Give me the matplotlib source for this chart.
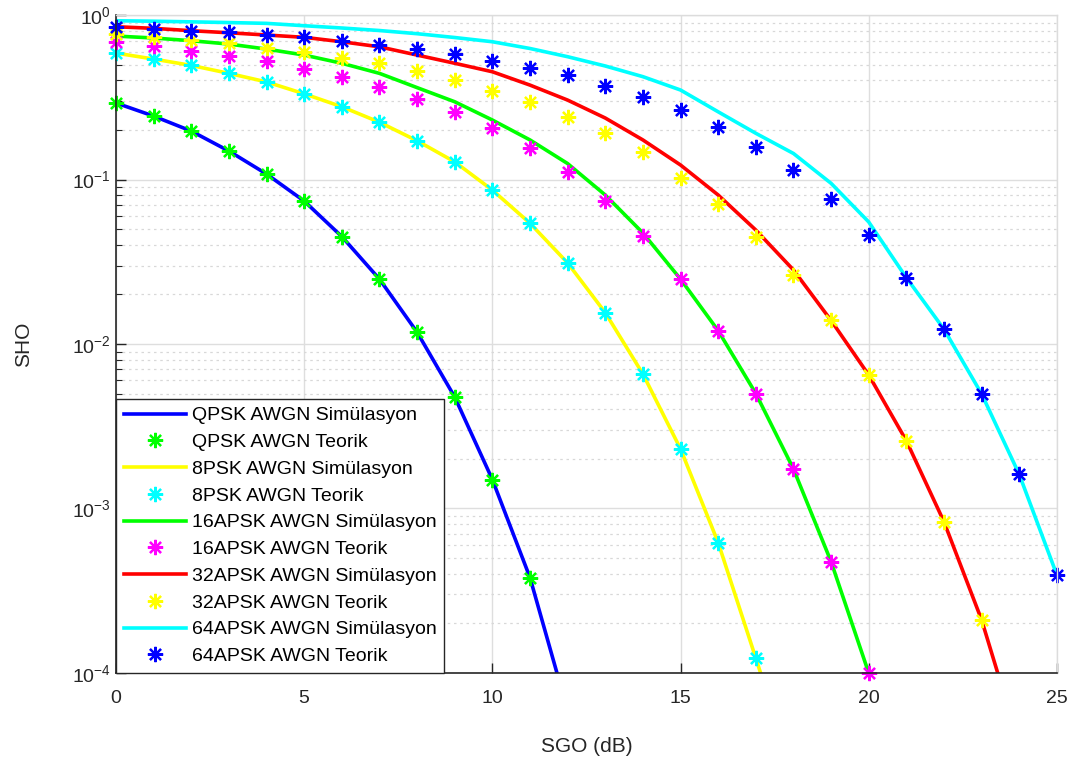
import numpy as np
import matplotlib
matplotlib.use("Agg")
import matplotlib.pyplot as plt

plt.rcParams['font.family'] = ['Liberation Sans', 'DejaVu Sans']

# --- SGO (dB) ekseni
snr = list(range(0, 26))

# --- QPSK
qpsk_sim = [0.292, 0.243, 0.197, 0.149, 0.108, 0.074, 0.045, 0.0248, 0.0118,
            0.00476, 0.0015, 0.00038, 5.9e-5]
qpsk_teo = [0.292, 0.243, 0.197, 0.149, 0.108, 0.074, 0.045, 0.0248, 0.0118,
            0.00476, 0.0015, 0.00038]

# --- 8PSK
psk8_sim = [0.587, 0.54, 0.494, 0.442, 0.392, 0.332, 0.277, 0.223, 0.172,
            0.128, 0.0863, 0.0542, 0.0311, 0.0155, 0.00657, 0.0023, 0.00062,
            1.23e-4, 2.4e-5]
psk8_teo = [0.587, 0.54, 0.494, 0.442, 0.392, 0.332, 0.277, 0.223, 0.172,
            0.128, 0.0863, 0.0542, 0.0311, 0.0155, 0.00657, 0.0023, 0.00062,
            1.23e-4]

# --- 16APSK
apsk16_sim = [0.745, 0.725, 0.698, 0.666, 0.621, 0.571, 0.509, 0.442, 0.362,
              0.297, 0.23, 0.174, 0.125, 0.0805, 0.0473, 0.0248, 0.01205,
              0.005, 0.00174, 4.75e-4, 1.0e-4, 1.5e-5]
apsk16_teo = [0.682, 0.651, 0.607, 0.566, 0.525, 0.472, 0.422, 0.365, 0.31,
              0.258, 0.205, 0.156, 0.111, 0.074, 0.0455, 0.0248, 0.01205,
              0.005, 0.00174, 4.75e-4, 1.0e-4]

# --- 32APSK
apsk32_sim = [0.849, 0.83, 0.803, 0.78, 0.756, 0.732, 0.688, 0.641, 0.571,
              0.509, 0.452, 0.375, 0.304, 0.2365, 0.174, 0.1225, 0.0805,
              0.0493, 0.0282, 0.0139, 0.00648, 0.00258, 8.3e-4, 2.1e-4, 3.7e-5]
apsk32_teo = [0.763, 0.738, 0.705, 0.673, 0.627, 0.593, 0.546, 0.508, 0.457,
              0.401, 0.347, 0.296, 0.241, 0.191, 0.146, 0.1025, 0.0707,
              0.0445, 0.0263, 0.0139, 0.00648, 0.00258, 8.3e-4, 2.1e-4]

# --- 64APSK
apsk64_sim = [0.923, 0.917, 0.909, 0.9, 0.89, 0.861, 0.834, 0.805, 0.77,
              0.73, 0.688, 0.626, 0.558, 0.49, 0.422, 0.35, 0.258, 0.191,
              0.144, 0.0948, 0.0552, 0.0253, 0.0123, 0.00497, 0.00161, 3.94e-4]
apsk64_teo = [0.849, 0.826, 0.803, 0.785, 0.759, 0.732, 0.692, 0.654, 0.619,
              0.577, 0.528, 0.478, 0.43, 0.372, 0.316, 0.264, 0.21, 0.158,
              0.114, 0.0758, 0.046, 0.0253, 0.0123, 0.00497, 0.00161, 3.94e-4]

names = ['QPSK', '8PSK', '16APSK', '32APSK', '64APSK']
sims = [qpsk_sim, psk8_sim, apsk16_sim, apsk32_sim, apsk64_sim]
teos = [qpsk_teo, psk8_teo, apsk16_teo, apsk32_teo, apsk64_teo]
line_col = ['#0000ff', '#ffff00', '#00ff00', '#ff0000', '#00ffff']
mark_col = ['#00ff00', '#00ffff', '#ff00ff', '#ffff00', '#0000ff']

fig = plt.figure(figsize=(10.84, 7.67), dpi=100)
ax = fig.add_axes([0.107, 0.1226, 0.868, 0.8578])

star = (8, 2, 0)  # matlab '*'
for n, s, t, lc, mc in zip(names, sims, teos, line_col, mark_col):
    ax.semilogy(snr[:len(s)], s, '-', color=lc, lw=2.6,
                label=n + ' AWGN Simülasyon')
    ax.semilogy(snr[:len(t)], t, ls='none', marker=star, ms=11, mew=1.6,
                color=mc, label=n + ' AWGN Teorik', clip_on=False)

ax.set_xlim(0, 25)
ax.set_ylim(1e-4, 1)
ax.set_xticks([0, 5, 10, 15, 20, 25])

ax.grid(True, which='major', color='#dedede', lw=1.0)
ax.grid(True, which='minor', axis='y', color='#d8d8d8', lw=0.9, ls=(0, (2, 3)))
ax.set_axisbelow(True)

for sp in ['left', 'bottom']:
    ax.spines[sp].set_color('#262626')
    ax.spines[sp].set_linewidth(1.2)
for sp in ['top', 'right']:
    ax.spines[sp].set_color('#dcdcdc')
    ax.spines[sp].set_linewidth(1.0)

ax.tick_params(which='both', direction='in', colors='#262626', labelsize=14,
               top=False, right=False)
ax.tick_params(which='major', length=7, width=1.0)
ax.tick_params(which='minor', length=4, width=0.8)
ax.tick_params(axis='x', pad=12)

ax.set_xlabel('SGO (dB)', fontsize=15, color='#262626', labelpad=22)
ax.set_ylabel('SHO', fontsize=15, color='#262626', labelpad=28)

leg = ax.legend(loc='lower left', bbox_to_anchor=(0, 0), borderaxespad=0,
                fontsize=14, handlelength=3.2, handletextpad=0.3,
                labelspacing=0.47, borderpad=0.4, fancybox=False,
                framealpha=1, edgecolor='#262626')
leg.get_frame().set_linewidth(1.0)

fig.savefig('out.png', dpi=100, facecolor='white')
